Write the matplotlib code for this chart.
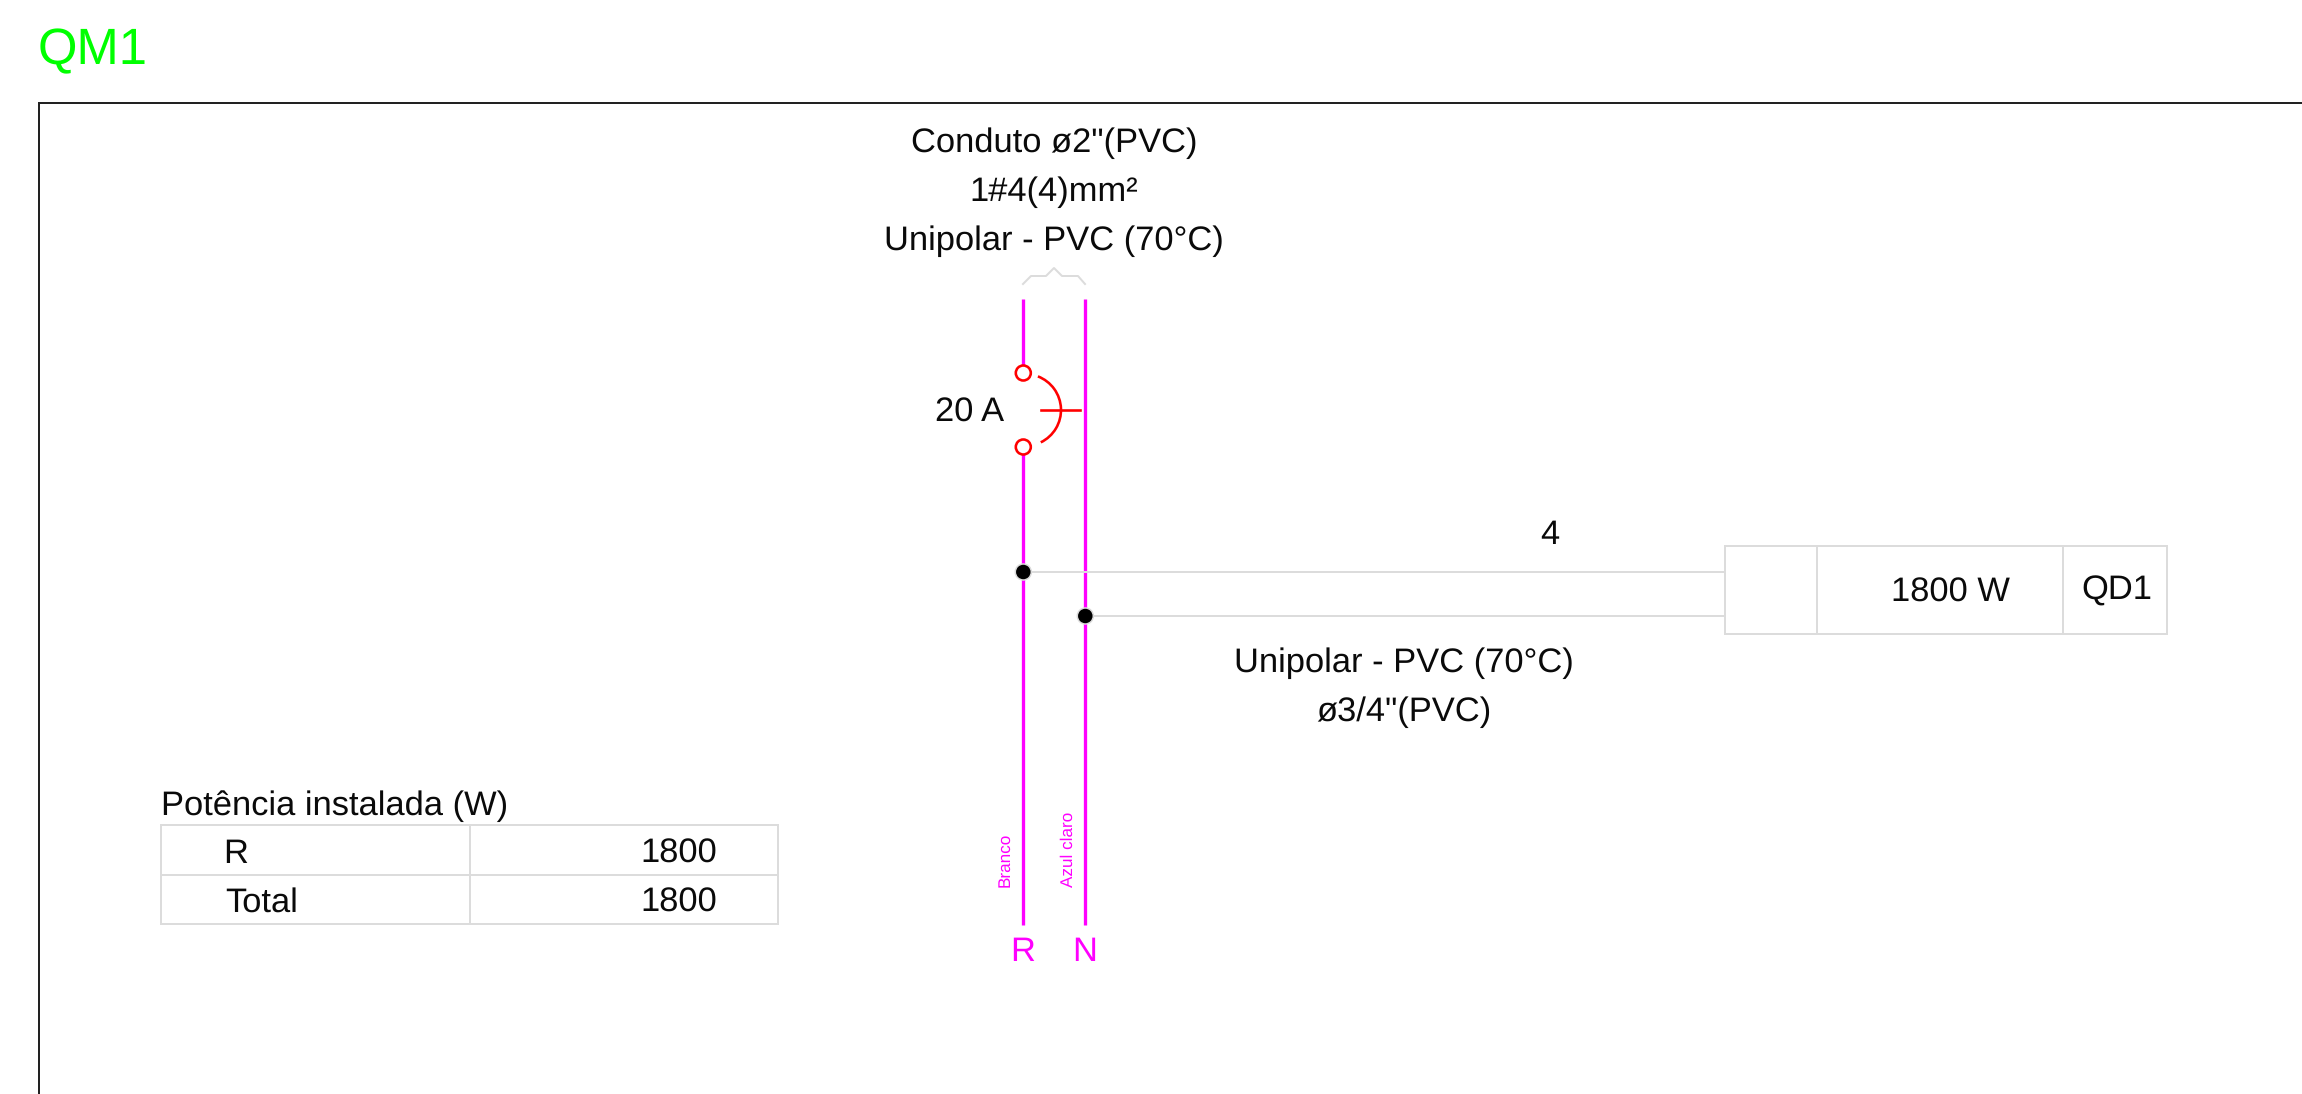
import matplotlib
matplotlib.use("Agg")
import matplotlib.pyplot as plt
from matplotlib.patches import Arc, Circle, Rectangle

plt.rcParams["font.family"] = ["Liberation Sans", "DejaVu Sans"]
plt.rcParams["text.hinting"] = "no_hinting"

# dados do diagrama
titulo = "QM1"
conduto_linhas = ['Conduto ø2"(PVC)', "1#4(4)mm²", "Unipolar - PVC (70°C)"]
disjuntor = "20 A"
fases = ["R", "N"]
cores_fases = ["Branco", "Azul claro"]
circuito_num = "4"
circuito_linhas = ["Unipolar - PVC (70°C)", 'ø3/4"(PVC)']
carga = "1800 W"
quadro = "QD1"
tabela_titulo = "Potência instalada (W)"
tabela_nomes = ["R", "Total"]
tabela_valores = [1800, 1800]

# posicoes em pixels da imagem
LARG, ALT = 2302, 1094
X_FASES = [1023.3, 1085.3]
Y_FASE_INI, Y_FASE_FIM = 299, 925
Y_CIRC = [572, 616]
MAGENTA = "#ff00ff"
CINZA = "#dcdcdc"
VERMELHO = "#ff0000"
PRETO = "#0a0a0a"
PX = 0.72

fig = plt.figure(figsize=(LARG / 100, ALT / 100), dpi=100, facecolor="white")
ax = fig.add_axes([0, 0, 1, 1])
ax.set_xlim(0, LARG)
ax.set_ylim(ALT, 0)
ax.axis("off")

ax.text(38, 64, titulo, color="#00ff00", fontsize=36.5, va="baseline")
ax.plot([39, 39, LARG], [ALT, 102.5, 102.5], color="#222222", lw=2 * PX, solid_joinstyle="miter")

for y, linha in zip([152, 201, 250], conduto_linhas):
    ax.text(1054, y, linha, fontsize=24.8, ha="center", va="baseline", color=PRETO)

# chave sobre os condutores
ax.plot([1023, 1031, 1046, 1054, 1062, 1078, 1085], [284, 276, 276, 268, 276, 276, 284], color=CINZA, lw=2 * PX)

# condutores
for x in X_FASES:
    ax.plot([x, x], [Y_FASE_INI, Y_FASE_FIM], color=MAGENTA, lw=3.3 * PX, solid_capstyle="butt", zorder=2)

# disjuntor
ax.plot([1023.3, 1023.3], [381, 439], color="white", lw=6 * PX, solid_capstyle="butt", zorder=2.5)
for y in [373, 447]:
    ax.add_patch(Circle((1023.3, y), 7.5, fc="white", ec=VERMELHO, lw=2.6 * PX, zorder=3))
ax.add_patch(Arc((1025, 410), 72, 72, theta1=-69, theta2=64, ec=VERMELHO, lw=2.6 * PX, zorder=3))
ax.plot([1041, 1080], [410, 410], color=VERMELHO, lw=2.6 * PX, zorder=3)
ax.text(1004, 422, disjuntor, fontsize=24.8, ha="right", va="baseline", color=PRETO)

# circuito
for x, y in zip(X_FASES, Y_CIRC):
    ax.plot([x, 1725], [y, y], color=CINZA, lw=2 * PX, zorder=2.6)
    ax.add_patch(Circle((x, y), 8, fc="black", ec=CINZA, lw=1.5 * PX, zorder=4))
ax.text(1550, 544, circuito_num, fontsize=24.8, ha="center", va="baseline", color=PRETO)
for y, linha in zip([672, 721], circuito_linhas):
    ax.text(1404, y, linha, fontsize=24.8, ha="center", va="baseline", color=PRETO)

# caixa da carga
ax.add_patch(Rectangle((1725, 546), 442, 88, fc="none", ec=CINZA, lw=2 * PX, zorder=3))
for x in [1817, 2063]:
    ax.plot([x, x], [546, 634], color=CINZA, lw=2 * PX, zorder=3)
ax.text(1950.5, 602, carga, fontsize=24.8, ha="center", va="baseline", color=PRETO)
ax.text(2116.5, 600, quadro, fontsize=24.8, ha="center", va="baseline", color=PRETO)

# nomes das fases e cores
for x, nome, cor, xc in zip(X_FASES, fases, cores_fases, [1005, 1068]):
    ax.text(x - 1, 961, nome, color=MAGENTA, fontsize=24.8, ha="center", va="baseline")
    ax.text(xc, 887, cor, color=MAGENTA, fontsize=12.3, rotation=90, ha="center", va="bottom")

# tabela de potencia
ax.text(161, 815, tabela_titulo, fontsize=24.8, va="baseline", color=PRETO)
for y in [825, 875, 924]:
    ax.plot([161.5, 778], [y, y], color=CINZA, lw=2 * PX)
for x in [161.5, 470, 778]:
    ax.plot([x, x], [825, 924], color=CINZA, lw=2 * PX)
for y, x, nome, valor in zip([863, 912], [223, 225], tabela_nomes, tabela_valores):
    ax.text(x, y, nome, fontsize=24.8, va="baseline", color=PRETO)
    ax.text(717, y, str(valor), fontsize=24.8, ha="right", va="baseline", color=PRETO)

fig.savefig("out.png", dpi=100, facecolor="white")
